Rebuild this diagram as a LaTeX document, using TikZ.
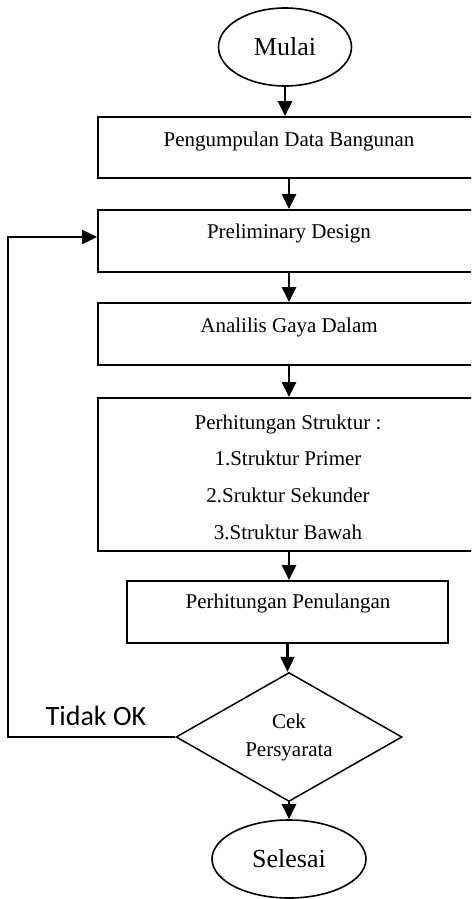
\documentclass[tikz,border=0pt]{standalone}
\usepackage{fontspec}
\setmainfont{Liberation Serif}
\newfontfamily\calibrifont{Carlito}
\usetikzlibrary{shapes.geometric,arrows.meta,calc}
\begin{document}
\begin{tikzpicture}[x=1pt,y=-1pt,
  box/.style={draw,line width=1.8pt,rectangle,inner sep=0pt},
  term/.style={draw,line width=1.6pt,ellipse,inner sep=0pt,font=\fontsize{26}{30}\selectfont},
  dec/.style={draw,line width=1.5pt,diamond,aspect=1.75,inner sep=0pt,align=center,font=\fontsize{21}{28}\selectfont},
  arr/.style={line width=2.4pt,-{Triangle[width=14pt,length=15pt]}},
  txt/.style={font=\fontsize{21}{25}\selectfont,inner sep=0pt}]
\useasboundingbox (0,0) rectangle (471,899);
\clip (0,0) rectangle (471,899);
\node[term,minimum width=133pt,minimum height=78pt] (m) at (285,47) {Mulai};
\node[box,minimum width=382pt,minimum height=61pt] (b1) at (289,147.5) {};
\node[txt] (t1) at (289,141) {Pengumpulan Data Bangunan};
\node[box,minimum width=382pt,minimum height=62pt] (b2) at (289,241) {};
\node[txt] (t2) at (289,233) {Preliminary Design};
\node[box,minimum width=382pt,minimum height=62pt] (b3) at (289,334) {};
\node[txt] (t3) at (289,327) {Analilis Gaya Dalam};
\node[box,minimum width=382pt,minimum height=153pt] (b4) at (289,474.5) {};
\node[txt,align=center,font=\fontsize{21}{36.7}\selectfont] (t4) at (288,477) {Perhitungan Struktur :\\1.Struktur Primer\\2.Sruktur Sekunder\\3.Struktur Bawah};
\node[box,minimum width=321pt,minimum height=62pt] (b5) at (287.5,612) {};
\node[txt] (t5) at (288,603) {Perhitungan Penulangan};
\node[dec,minimum width=226pt,minimum height=129pt] (d) at (289,737) {Cek\\Persyarata};
\node[term,minimum width=154pt,minimum height=78pt] (s) at (289,859) {Selesai};
\node[font=\calibrifont\fontsize{28}{32}\selectfont,inner sep=0pt] (tok) at (96,716) {Tidak OK};
\coordinate (c1) at (8,737);
\coordinate (c2) at (8,237);
\draw[arr] (m.south) -- (m.south |- b1.north);
\draw[arr] (b1.south) -- (b2.north);
\draw[arr] (b2.south) -- (b3.north);
\draw[arr] (b3.south) -- (b4.north);
\draw[arr] (b4.south) -- (b4.south |- b5.north);
\draw[arr] (b5.south) -- (b5.south |- d.north);
\draw[arr] (d.south) -- (s.north);
\draw[arr,line width=1.8pt] (d.west) -- (c1) -- (c2) -- (c2 -| b2.west);
\end{tikzpicture}
\end{document}
